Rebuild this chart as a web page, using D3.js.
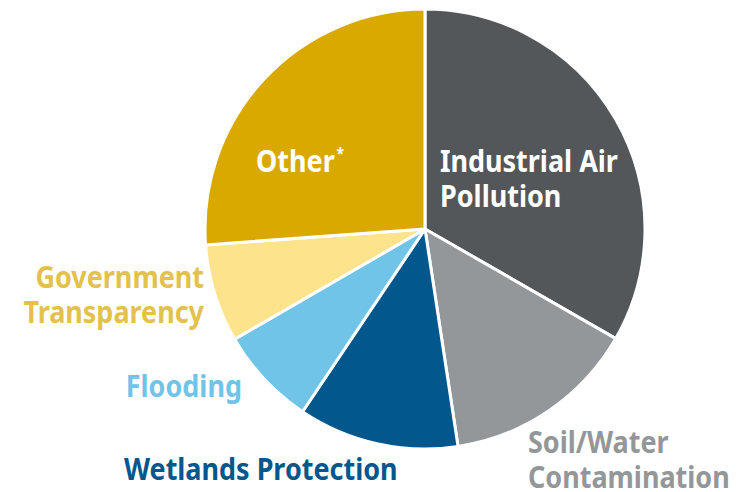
<!DOCTYPE html>
<html>
<head>
<meta charset="utf-8">
<script src="https://cdn.jsdelivr.net/npm/d3@7"></script>
<style>
  body { margin: 0; background: #fff; }
  text { font-family: "Noto Sans", "Open Sans", sans-serif; font-weight: 700; }
</style>
</head>
<body>
<svg id="chart" width="748" height="492"></svg>
<script>
// share of issues (percent), clockwise from 12 o'clock
var categories = ['Industrial Air Pollution', 'Soil/Water Contamination', 'Wetlands Protection',
                  'Flooding', 'Government Transparency', 'Other'];
var values = [33.3, 14.3, 11.8, 7.25, 7.2, 26.15];
var sliceColors = ['#54575a', '#939799', '#02578d', '#70c4e8', '#fde38c', '#d9a900'];

// label placement (lines, anchor, position, colour)
var labelLayout = [
  {lines: ['Industrial Air', 'Pollution'], x: 440, y: 172, anchor: 'start', fill: '#ffffff'},
  {lines: ['Soil/Water', 'Contamination'], x: 528, y: 453, anchor: 'start', fill: '#939799'},
  {lines: ['Wetlands Protection'], x: 124, y: 480, anchor: 'start', fill: '#02578d'},
  {lines: ['Flooding'], x: 242, y: 397, anchor: 'end', fill: '#70c4e8'},
  {lines: ['Government', 'Transparency'], x: 204, y: 288, anchor: 'end', fill: '#e3c24c'},
  {lines: ['Other'], x: 256, y: 172, anchor: 'start', fill: '#ffffff', sup: '*'}
];

var svg = d3.select('#chart');
var cx = 425, cy = 229, radius = 220;

var pie = d3.pie().sort(null).value(function(d){ return d; });
var arc = d3.arc().innerRadius(0).outerRadius(radius);

var g = svg.append('g').attr('transform', 'translate(' + cx + ',' + cy + ')');

g.selectAll('path.slice')
  .data(pie(values))
  .enter().append('path')
  .attr('class', 'slice')
  .attr('d', arc)
  .style('fill', function(d, i){ return sliceColors[i]; })
  .style('stroke', '#ffffff')
  .style('stroke-width', 3)
  .style('stroke-linejoin', 'round');

// the original face is a condensed bold sans, so squeeze a bit horizontally
var fontSize = 31, lineGap = 35, squeeze = 0.87;

labelLayout.forEach(function(lab){
  var t = svg.append('text')
    .attr('transform', 'translate(' + lab.x + ',' + lab.y + ') scale(' + squeeze + ',1)')
    .attr('text-anchor', lab.anchor)
    .style('font-size', fontSize + 'px')
    .style('fill', lab.fill);
  lab.lines.forEach(function(line, j){
    t.append('tspan')
      .attr('x', 0)
      .attr('dy', j == 0 ? 0 : lineGap)
      .text(line);
  });
  if(lab.sup){
    t.append('tspan')
      .attr('dy', -13)
      .attr('dx', 2)
      .style('font-size', '16px')
      .text(lab.sup);
  }
});
</script>
</body>
</html>
